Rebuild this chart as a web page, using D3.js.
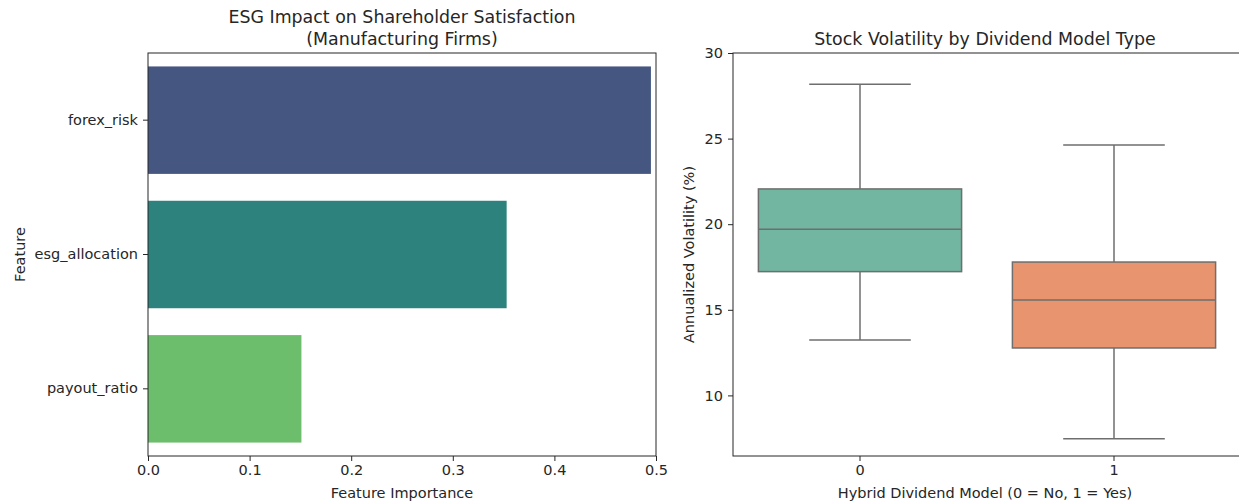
<!DOCTYPE html>
<html><head><meta charset="utf-8">
<script src="https://cdn.jsdelivr.net/npm/d3@7"></script>
<style>body{margin:0;background:#fff}svg{display:block}text{font-family:"DejaVu Sans",sans-serif;fill:#262626}</style>
</head><body><svg id="c" width="1239" height="503"></svg>
<script>
const features = ["forex_risk", "esg_allocation", "payout_ratio"];
const importance = [0.495, 0.353, 0.151];
const barColors = ["#455781", "#2e827d", "#6cbd6c"];
const impTicks = [0, 0.1, 0.2, 0.3, 0.4, 0.5];

const groups = ["0", "1"];
const whiskerLow = [13.24, 7.47];
const q1 = [17.23, 12.77];
const median = [19.70, 15.57];
const q3 = [22.06, 17.79];
const whiskerHigh = [28.17, 24.63];
const boxColors = ["#72b5a1", "#e8956f"];
const volTicks = [10, 15, 20, 25, 30];

const svg = d3.select("#c");
const fs = 14.5;
const tfs = 17.4;

function styleAxis(a) {
  a.select(".domain").remove();
  a.selectAll("text").attr("font-size", fs).attr("font-family", "DejaVu Sans").attr("fill", "#262626");
  a.selectAll("line").attr("stroke", "#262626");
}

// Left panel
const L = {x0: 148, x1: 656, y0: 53, y1: 456};
const xL = d3.scaleLinear().domain([0, 0.5]).range([L.x0, L.x1]);
const yL = d3.scaleBand().domain(features).range([L.y0, L.y1]).paddingInner(0.2).paddingOuter(0.1);
const gL = svg.append("g");
gL.selectAll("rect").data(features).join("rect")
  .attr("x", xL(0)).attr("y", d => yL(d)).attr("height", yL.bandwidth())
  .attr("width", (d, i) => xL(importance[i]) - xL(0)).attr("fill", (d, i) => barColors[i]);
gL.append("rect").attr("x", L.x0).attr("y", L.y0).attr("width", L.x1 - L.x0).attr("height", L.y1 - L.y0)
  .attr("fill", "none").attr("stroke", "#262626").attr("stroke-width", 1);
const axL = gL.append("g").attr("transform", `translate(0,${L.y1})`)
  .call(d3.axisBottom(xL).tickValues(impTicks).tickFormat(d3.format(".1f")).tickSizeOuter(0).tickSize(5).tickPadding(4));
const ayL = gL.append("g").attr("transform", `translate(${L.x0},0)`)
  .call(d3.axisLeft(yL).tickSizeOuter(0).tickSize(5).tickPadding(5));
styleAxis(axL); styleAxis(ayL);
gL.append("text").attr("x", (L.x0 + L.x1) / 2).attr("y", 23).attr("text-anchor", "middle").attr("font-size", tfs).text("ESG Impact on Shareholder Satisfaction");
gL.append("text").attr("x", (L.x0 + L.x1) / 2).attr("y", 45).attr("text-anchor", "middle").attr("font-size", tfs).text("(Manufacturing Firms)");
gL.append("text").attr("x", (L.x0 + L.x1) / 2).attr("y", 498).attr("text-anchor", "middle").attr("font-size", fs).text("Feature Importance");
gL.append("text").attr("transform", `translate(25,${(L.y0 + L.y1) / 2}) rotate(-90)`).attr("text-anchor", "middle").attr("font-size", fs).text("Feature");

// Right panel
const R = {x0: 733, x1: 1241, y0: 53, y1: 456};
const xR = d3.scaleBand().domain(groups).range([R.x0, R.x1]).padding(0);
const yR = d3.scaleLinear().domain([6.46, 30]).range([R.y1, R.y0]);
const gR = svg.append("g");
const bw = xR.bandwidth() * 0.8;
const lineC = "#6e6e6e";
groups.forEach((g, i) => {
  const cx = xR(g) + xR.bandwidth() / 2;
  const b = gR.append("g");
  b.append("line").attr("x1", cx).attr("x2", cx).attr("y1", yR(q3[i])).attr("y2", yR(whiskerHigh[i])).attr("stroke", lineC).attr("stroke-width", 1.5);
  b.append("line").attr("x1", cx).attr("x2", cx).attr("y1", yR(q1[i])).attr("y2", yR(whiskerLow[i])).attr("stroke", lineC).attr("stroke-width", 1.5);
  b.append("line").attr("x1", cx - bw / 4).attr("x2", cx + bw / 4).attr("y1", yR(whiskerHigh[i])).attr("y2", yR(whiskerHigh[i])).attr("stroke", lineC).attr("stroke-width", 1.5);
  b.append("line").attr("x1", cx - bw / 4).attr("x2", cx + bw / 4).attr("y1", yR(whiskerLow[i])).attr("y2", yR(whiskerLow[i])).attr("stroke", lineC).attr("stroke-width", 1.5);
  b.append("rect").attr("x", cx - bw / 2).attr("width", bw).attr("y", yR(q3[i])).attr("height", yR(q1[i]) - yR(q3[i]))
    .attr("fill", boxColors[i]).attr("stroke", lineC).attr("stroke-width", 1.5);
  b.append("line").attr("x1", cx - bw / 2).attr("x2", cx + bw / 2).attr("y1", yR(median[i])).attr("y2", yR(median[i])).attr("stroke", lineC).attr("stroke-width", 1.5);
});
gR.append("rect").attr("x", R.x0).attr("y", R.y0).attr("width", R.x1 - R.x0).attr("height", R.y1 - R.y0)
  .attr("fill", "none").attr("stroke", "#262626").attr("stroke-width", 1);
const axR = gR.append("g").attr("transform", `translate(0,${R.y1})`)
  .call(d3.axisBottom(xR).tickSizeOuter(0).tickSize(5).tickPadding(4));
const ayR = gR.append("g").attr("transform", `translate(${R.x0},0)`)
  .call(d3.axisLeft(yR).tickValues(volTicks).tickSizeOuter(0).tickSize(5).tickPadding(5));
styleAxis(axR); styleAxis(ayR);
gR.append("text").attr("x", (R.x0 + R.x1) / 2 - 2).attr("y", 45).attr("text-anchor", "middle").attr("font-size", tfs).text("Stock Volatility by Dividend Model Type");
gR.append("text").attr("x", (R.x0 + R.x1) / 2 - 2).attr("y", 498).attr("text-anchor", "middle").attr("font-size", fs).text("Hybrid Dividend Model (0 = No, 1 = Yes)");
gR.append("text").attr("transform", `translate(694,${(R.y0 + R.y1) / 2}) rotate(-90)`).attr("text-anchor", "middle").attr("font-size", fs).text("Annualized Volatility (%)");
</script></body></html>
